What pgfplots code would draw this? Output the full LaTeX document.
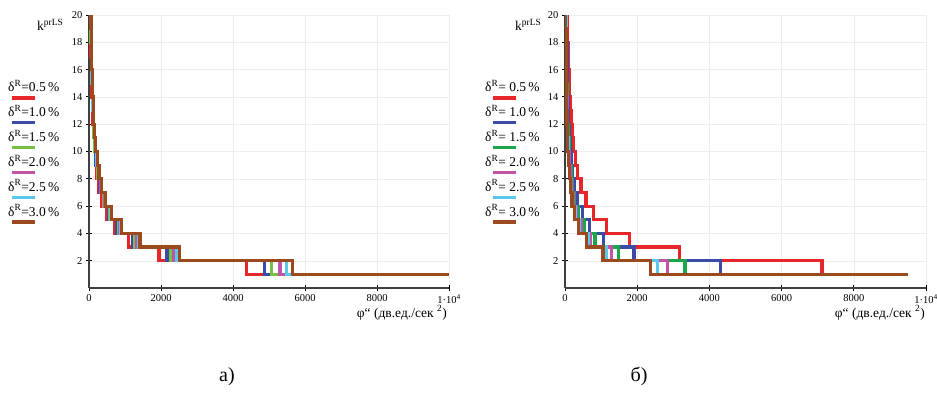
\documentclass[border=0pt]{standalone}
\usepackage{fontspec}
\setmainfont{Liberation Serif}
\usepackage{pgfplots}
\pgfplotsset{compat=1.18}
\definecolor{cR}{HTML}{E8262A}
\definecolor{cB}{HTML}{3A4BA8}
\definecolor{cGa}{HTML}{78C043}
\definecolor{cGb}{HTML}{1AA64B}
\definecolor{cM}{HTML}{C054A8}
\definecolor{cC}{HTML}{5AC8E8}
\definecolor{cBr}{HTML}{9A4A1E}
\pgfplotsset{mcad/.style={
  scale only axis, height=273pt, xmin=0, xmax=10000, ymin=0, ymax=20,
  axis lines=left, axis line style={-, line width=1.3pt, black!75},
  tick align=center, major tick length=6pt, tick style={black, line width=0.9pt},
  xtick={0,2000,4000,6000,8000,10000},
  xticklabels={0,2000,4000,6000,8000,{1·10\textsuperscript{4}}},
  ytick={2,4,...,20},
  grid=major, grid style={black!7, line width=0.4pt},
  tick label style={font=\fontsize{10.5}{12}\selectfont},
  /pgf/number format/assume math mode=true,
  scaled x ticks=false,
},
stp/.style={const plot, mark=none, line width=3.2pt, line join=miter, line cap=butt}}
\begin{document}
\begin{tikzpicture}[x=1pt,y=1pt]
\useasboundingbox (0,0) rectangle (937,-396);
% ---------- left
\begin{axis}[mcad, width=360pt, at={(89pt,-288pt)}, anchor=south west]
\addplot[stp, cR] coordinates {(0,20)(44,19)(49,18)(54,17)(61,16)(68,15)(78,14)(89,13)(104,12)(122,11)(145,10)(175,9)(216,8)(274,7)(358,6)(487,5)(701,4)(1095,3)(1947,2)(4380,1)(10000,1)};
\addplot[stp, cB] coordinates {(0,20)(49,19)(54,18)(60,17)(67,16)(76,15)(87,14)(99,13)(115,12)(135,11)(161,10)(195,9)(240,8)(304,7)(398,6)(541,5)(779,4)(1218,3)(2164,2)(4870,1)(10000,1)};
\addplot[stp, cGa] coordinates {(0,20)(51,19)(56,18)(63,17)(70,16)(79,15)(90,14)(104,13)(120,12)(141,11)(168,10)(203,9)(251,8)(317,7)(414,6)(564,5)(812,4)(1269,3)(2255,2)(5074,1)(10000,1)};
\addplot[stp, cM] coordinates {(0,20)(53,19)(59,18)(66,17)(73,16)(83,15)(94,14)(108,13)(126,12)(147,11)(175,10)(212,9)(262,8)(332,7)(433,6)(590,5)(849,4)(1327,3)(2358,2)(5306,1)(10000,1)};
\addplot[stp, cC] coordinates {(0,20)(55,19)(61,18)(68,17)(76,16)(86,15)(98,14)(112,13)(130,12)(153,11)(182,10)(220,9)(271,8)(343,7)(448,6)(610,5)(879,4)(1373,3)(2440,2)(5491,1)(10000,1)};
\addplot[stp, cBr] coordinates {(0,20)(57,19)(63,18)(70,17)(78,16)(88,15)(101,14)(115,13)(134,12)(157,11)(187,10)(226,9)(279,8)(354,7)(462,6)(629,5)(905,4)(1415,3)(2515,2)(5658,1)(10000,1)};
\end{axis}
% ---------- right
\begin{axis}[mcad, width=361pt, at={(565pt,-288pt)}, anchor=south west]
\addplot[stp, cR] coordinates {(0,20)(71,19)(79,18)(88,17)(99,16)(111,15)(127,14)(145,13)(168,12)(198,11)(235,10)(285,9)(352,8)(445,7)(581,6)(791,5)(1139,4)(1780,3)(3164,2)(7119,1)(9510,1)};
\addplot[stp, cB] coordinates {(0,20)(43,19)(48,18)(53,17)(60,16)(67,15)(76,14)(88,13)(102,12)(119,11)(142,10)(172,9)(212,8)(269,7)(351,6)(478,5)(688,4)(1075,3)(1911,2)(4300,1)(9510,1)};
\addplot[stp, cGb] coordinates {(0,20)(33,19)(37,18)(41,17)(46,16)(52,15)(59,14)(68,13)(79,12)(92,11)(110,10)(133,9)(164,8)(208,7)(271,6)(369,5)(532,4)(831,3)(1477,2)(3324,1)(9510,1)};
\addplot[stp, cM] coordinates {(0,20)(28,19)(32,18)(35,17)(39,16)(44,15)(51,14)(58,13)(67,12)(79,11)(94,10)(114,9)(140,8)(178,7)(232,6)(316,5)(455,4)(711,3)(1280,2)(2845,1)(9510,1)};
\addplot[stp, cC] coordinates {(0,20)(26,19)(28,18)(32,17)(35,16)(40,15)(45,14)(52,13)(61,12)(71,11)(85,10)(102,9)(126,8)(160,7)(209,6)(284,5)(409,4)(639,3)(1160,2)(2557,1)(9510,1)};
\addplot[stp, cBr] coordinates {(0,20)(24,19)(26,18)(29,17)(33,16)(37,15)(42,14)(48,13)(56,12)(66,11)(78,10)(95,9)(117,8)(148,7)(194,6)(264,5)(380,4)(593,3)(1055,2)(2373,1)(9510,1)};
\end{axis}
% ---------- labels
\def\lg{\fontsize{13.5}{15}\selectfont}
\node[anchor=base west, inner sep=0] at (37,-30.5) {\lg k\textsuperscript{prLS}};
\node[anchor=base west, inner sep=0] at (515,-30.5) {\lg k\textsuperscript{prLS}};
\foreach \i/\t/\c in {0/0.5/cR,1/1.0/cB,2/1.5/cGa,3/2.0/cM,4/2.5/cC,5/3.0/cBr}{
  \node[anchor=base west, inner sep=0] at (8,{-92-24.8*\i}) {\lg δ\textsuperscript{R}=\t\,\%};
  \draw[\c, line width=3.2pt] (12,{-98-24.8*\i}) -- (35,{-98-24.8*\i});
}
\foreach \i/\t/\c in {0/0.5/cR,1/1.0/cB,2/1.5/cGb,3/2.0/cM,4/2.5/cC,5/3.0/cBr}{
  \node[anchor=base west, inner sep=0] at (485,{-92-24.8*\i}) {\lg δ\textsuperscript{R}= \t\,\%};
  \draw[\c, line width=3.2pt] (493,{-98-24.8*\i}) -- (516,{-98-24.8*\i});
}
\node[anchor=base east, inner sep=0] at (447,-317) {\lg φ“ (дв.ед./сек \textsuperscript{2})};
\node[anchor=base east, inner sep=0] at (925,-317) {\lg φ“ (дв.ед./сек \textsuperscript{2})};
\node[anchor=base, inner sep=0] at (227,-381) {\fontsize{20}{22}\selectfont а)};
\node[anchor=base, inner sep=0] at (639,-381) {\fontsize{20}{22}\selectfont б)};
\end{tikzpicture}
\end{document}
